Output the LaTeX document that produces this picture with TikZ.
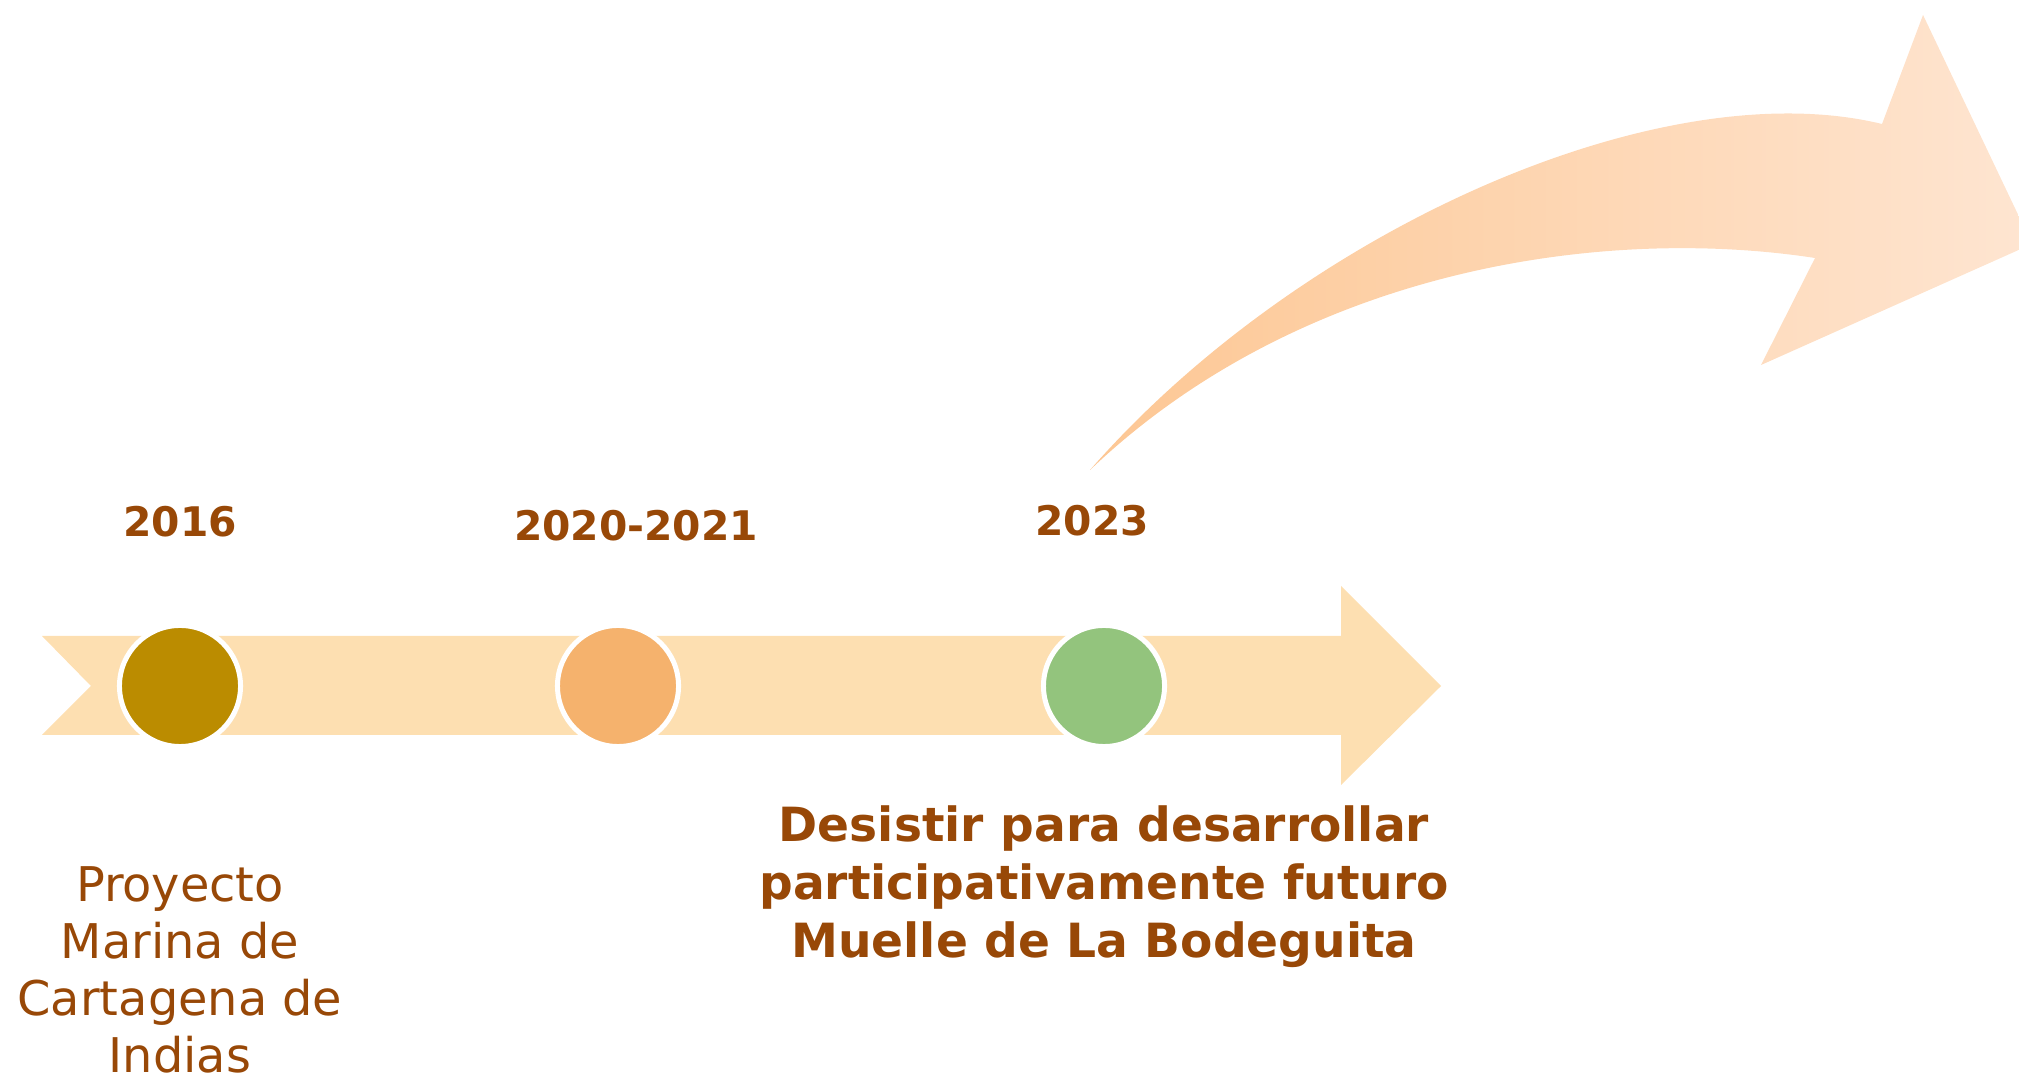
\documentclass[tikz,border=0pt]{standalone}
\usepackage{fontspec}
\setmainfont{DejaVu Sans}
\definecolor{bandfill}{HTML}{FDDFB1}
\definecolor{hitoA}{HTML}{BB8C00}
\definecolor{hitoB}{HTML}{F5B26D}
\definecolor{hitoC}{HTML}{93C47D}
\definecolor{marron}{HTML}{984807}
\definecolor{curvaL}{HTML}{FDC794}
\definecolor{curvaR}{HTML}{FEE5D1}
\tikzset{
	hito/.style={circle,inner sep=0pt,minimum size=1.21cm,draw=white,line width=1.42pt,fill=#1},
	anio/.style={font=\bfseries\fontsize{11.6}{14}\selectfont,text=marron,anchor=base,inner sep=0pt},
	nota/.style={font=\fontsize{13.6}{16.2}\selectfont,text=marron,align=center,inner sep=0pt},
	notab/.style={font=\bfseries\fontsize{13.4}{16.5}\selectfont,text=marron,align=center,inner sep=0pt}
}

\begin{document}
\begin{tikzpicture}[x=0.01cm,y=-0.01cm]
						\useasboundingbox (0,0) rectangle (2019,1077);
						\clip (0,0) rectangle (2019,1077);

						% banda de la linea de tiempo
						\fill[bandfill] (42,636) -- (1341,636) -- (1341,586) -- (1441,686) -- (1341,785) -- (1341,735) -- (42,735) -- (91,686) -- cycle;

						% flecha curva
						\shade[left color=curvaL,right color=curvaR] (1090,470) .. controls (1300,230) and (1660,70) .. (1882,124)
							-- (1923,15) -- (2032,244) -- (1761,365) -- (1815,258)
							.. controls (1600,225) and (1300,270) .. (1090,470) -- cycle;

						\node [hito=hitoA] (c2016) at (180,686) {};
						\node [hito=hitoB] (c2021) at (618,686) {};
						\node [hito=hitoC] (c2023) at (1104,686) {};

						\node [anio] (y2016) at (180,537) {2016};
						\node [anio] (y2021) at (636,541) {2020-2021};
						\node [anio] (y2023) at (1092,536) {2023};

						\node [nota] (proyecto) at (180,970) {Proyecto\\Marina de\\Cartagena de\\Indias};
						\node [notab] (desistir) at (1104,887) {Desistir para desarrollar\\participativamente futuro\\Muelle de La Bodeguita};
					\end{tikzpicture}
\end{document}
